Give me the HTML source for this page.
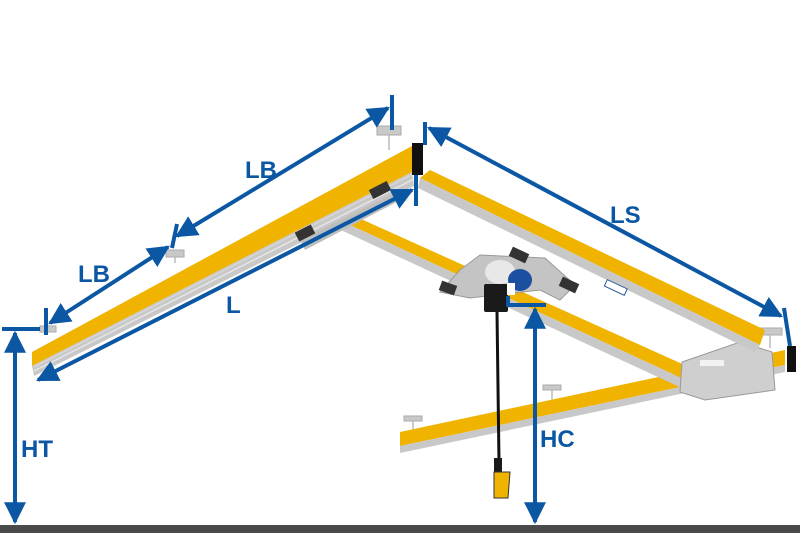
<!DOCTYPE html>
<html><head><style>
html,body{margin:0;padding:0;background:#fff;}
svg{display:block;}
text{font-family:"Liberation Sans",sans-serif;font-weight:bold;fill:#0b57a4;font-size:24px;}
</style></head><body>
<svg width="800" height="533" viewBox="0 0 800 533" xmlns="http://www.w3.org/2000/svg">
<defs>
<marker id="a" viewBox="0 0 10 10" refX="9" refY="5" markerWidth="5.5" markerHeight="5.5" orient="auto-start-reverse"><path d="M0,0 L10,5 L0,10 z" fill="#0b57a4"/></marker>
</defs>
<rect x="0" y="525" width="800" height="8" fill="#4a4a4a"/>

<g fill="#c9c9c9" stroke="#aaa" stroke-width="1">
<rect x="377" y="126" width="24" height="9"/>
<rect x="166" y="250" width="18" height="7"/>
<rect x="40" y="326" width="16" height="6"/>
<rect x="758" y="328" width="24" height="7"/>
<rect x="404" y="416" width="18" height="5"/>
<rect x="543" y="385" width="18" height="5"/>
</g>
<g stroke="#bbb" stroke-width="1.5">
<line x1="389" y1="135" x2="389" y2="150"/><line x1="175" y1="257" x2="175" y2="263"/>
<line x1="770" y1="335" x2="770" y2="348"/><line x1="413" y1="421" x2="413" y2="430"/><line x1="552" y1="390" x2="552" y2="400"/>
</g>

<polygon points="400,432 785,350 785,365 400,446" fill="#f0b400"/>
<polygon points="400,446 785,365 785,372 400,453" fill="#c8c8c8"/>
<rect x="787" y="346" width="9" height="26" fill="#111"/>

<polygon points="335,218 350,214 700,372 690,382" fill="#f0b400"/>
<polygon points="330,225 335,218 690,382 686,390" fill="#c8c8c8"/>

<polygon points="682,362 740,342 772,352 775,390 705,400 680,392" fill="#cfcfcf" stroke="#999" stroke-width="1"/>
<rect x="700" y="360" width="24" height="6" fill="#f2f2f2"/>

<polygon points="420,178 430,170 765,330 760,345" fill="#f0b400"/>
<polygon points="418,188 420,178 760,345 755,352" fill="#c8c8c8"/>
<rect x="605" y="284" width="22" height="7" fill="#fff" stroke="#2a5aa0" stroke-width="1" transform="rotate(25 616 287)"/>

<polygon points="32,352 412,146 412,172 32,366" fill="#f0b400"/>
<polygon points="32,366 412,172 414,186 34,376" fill="#c8c8c8"/>
<line x1="34" y1="371" x2="414" y2="179" stroke="#e6e6e6" stroke-width="1.5"/>
<line x1="34" y1="367" x2="413" y2="174" stroke="#dcdcdc" stroke-width="1"/>
<rect x="412" y="143" width="11" height="32" fill="#111"/>
<polygon points="300,240 405,188 410,195 305,250" fill="#bdbdbd"/>
<g fill="#333"><rect x="370" y="185" width="20" height="10" transform="rotate(-27 380 190)"/><rect x="296" y="228" width="18" height="10" transform="rotate(-27 305 233)"/></g>

<polygon points="460,270 480,255 545,258 575,285 560,300 540,290 470,298 440,292" fill="#c4c4c4" stroke="#999" stroke-width="1"/>
<rect x="440" y="283" width="16" height="10" fill="#333" transform="rotate(20 448 288)"/>
<rect x="560" y="280" width="18" height="10" fill="#333" transform="rotate(25 569 285)"/>
<rect x="510" y="250" width="18" height="10" fill="#333" transform="rotate(25 519 255)"/>
<ellipse cx="500" cy="272" rx="15" ry="12" fill="#e8e8e8"/>
<ellipse cx="520" cy="280" rx="12" ry="11" fill="#1c4fa0"/>
<rect x="484" y="284" width="24" height="28" rx="2" fill="#1a1a1a"/>
<rect x="507" y="283" width="8" height="12" fill="#fff"/>
<line x1="497" y1="312" x2="499" y2="462" stroke="#111" stroke-width="3"/>
<rect x="494" y="458" width="8" height="14" fill="#1a1a1a"/>
<polygon points="494,472 510,472 508,498 494,498" fill="#f0b400" stroke="#333" stroke-width="1"/>

<g stroke="#0b57a4" stroke-width="4" fill="none">
<line x1="2" y1="329" x2="40" y2="329"/>
<line x1="15" y1="333" x2="15" y2="522" marker-start="url(#a)" marker-end="url(#a)"/>
<line x1="392" y1="95" x2="392" y2="130"/>
<line x1="177" y1="224" x2="172" y2="248"/>
<line x1="46" y1="308" x2="46" y2="335"/>
<line x1="177" y1="236" x2="388" y2="108" marker-start="url(#a)" marker-end="url(#a)"/>
<line x1="50" y1="323" x2="168" y2="247" marker-start="url(#a)" marker-end="url(#a)"/>
<line x1="416" y1="175" x2="416" y2="206"/>
<line x1="38" y1="380" x2="412" y2="190" marker-start="url(#a)" marker-end="url(#a)"/>
<line x1="425" y1="122" x2="425" y2="145"/>
<line x1="784" y1="308" x2="790" y2="346"/>
<line x1="429" y1="128" x2="781" y2="316" marker-start="url(#a)" marker-end="url(#a)"/>
<polyline points="508,296 508,305 546,305"/>
<line x1="535" y1="309" x2="535" y2="522" marker-start="url(#a)" marker-end="url(#a)"/>
</g>
<text x="245" y="178">LB</text>
<text x="78" y="282">LB</text>
<text x="226" y="313">L</text>
<text x="610" y="223">LS</text>
<text x="21" y="457">HT</text>
<text x="540" y="447">HC</text>
</svg>
</body></html>
